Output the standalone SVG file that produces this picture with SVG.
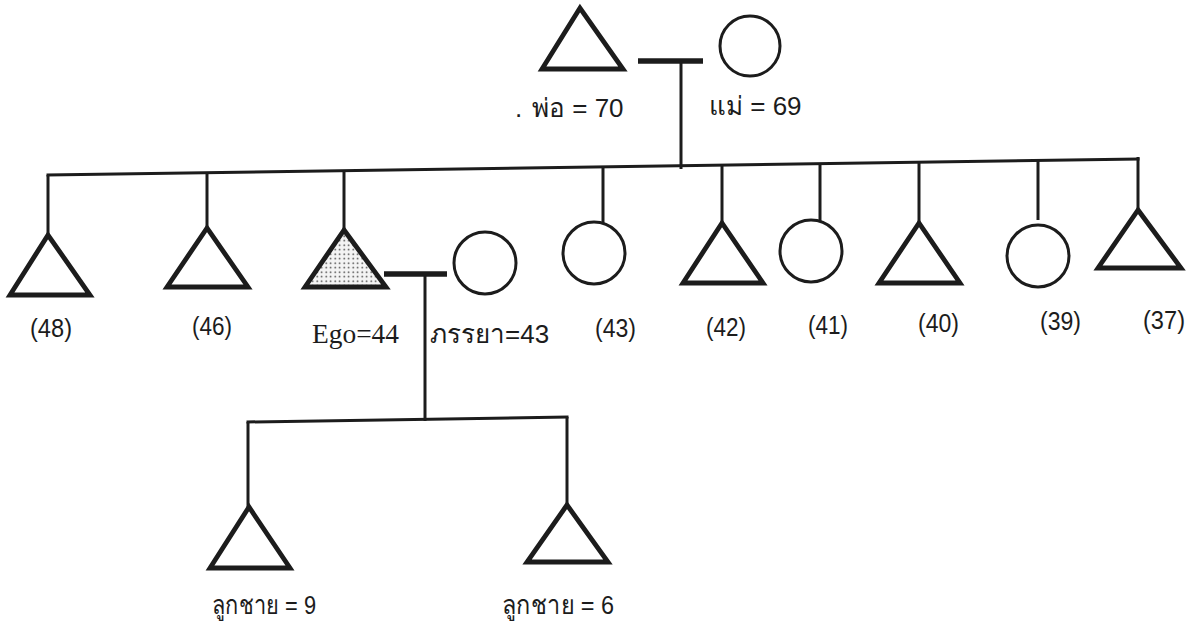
<svg xmlns="http://www.w3.org/2000/svg" width="1198" height="636" viewBox="0 0 1198 636">
<defs>
<pattern id="dots" width="4.5" height="4.5" patternUnits="userSpaceOnUse">
<rect width="4.5" height="4.5" fill="#f4f4f4"/>
<circle cx="2.2" cy="2.2" r="0.8" fill="#333"/>
</pattern>
</defs>
<style>
.tri{fill:none;stroke:#1c1c1c;stroke-width:4.8;stroke-linejoin:miter}
.cir{fill:none;stroke:#1c1c1c;stroke-width:3}
.ln{fill:none;stroke:#1c1c1c;stroke-width:3;stroke-linecap:butt}
.bar{fill:none;stroke:#1c1c1c;stroke-width:5.5}
.num{font-family:"Liberation Sans","DejaVu Sans",sans-serif;font-size:25px;fill:#1c1c1c}
.th{font-family:"Liberation Sans","Noto Sans","DejaVu Sans",sans-serif;font-size:26px;fill:#1c1c1c}
.ser{font-family:"Liberation Serif","DejaVu Serif",serif;font-size:28px;fill:#1c1c1c}
</style>
<rect width="1198" height="636" fill="#ffffff"/>
<g id="connectors">
<line class="bar" x1="638" y1="61" x2="703" y2="61"/>
<line class="ln" x1="681" y1="61" x2="681" y2="169"/>
<line class="ln" x1="46.5" y1="175" x2="1139.5" y2="159"/>
<line class="ln" x1="48" y1="175" x2="48" y2="235"/>
<line class="ln" x1="207" y1="172.7" x2="207" y2="228"/>
<line class="ln" x1="344" y1="170.7" x2="344" y2="230"/>
<line class="ln" x1="603" y1="166.9" x2="603" y2="223"/>
<line class="ln" x1="722" y1="165" x2="722" y2="223"/>
<line class="ln" x1="820" y1="163.7" x2="820" y2="221"/>
<line class="ln" x1="919" y1="162.2" x2="919" y2="223"/>
<line class="ln" x1="1038" y1="160.5" x2="1038" y2="220"/>
<line class="ln" x1="1138" y1="157" x2="1138" y2="210"/>
<line class="bar" x1="384" y1="274" x2="447" y2="274"/>
<line class="ln" x1="425" y1="274" x2="425" y2="421"/>
<line class="ln" x1="246.5" y1="422" x2="568.5" y2="417"/>
<line class="ln" x1="248" y1="422" x2="248" y2="507"/>
<line class="ln" x1="567" y1="417" x2="567" y2="505"/>
</g>
<g id="father"><polygon class="tri" points="580,8 542,69 623,69"/>
<text class="th" x="515" y="117">.<tspan x="532">พ่อ = 70</tspan></text></g>
<g id="mother"><circle class="cir" cx="750" cy="46" r="30"/>
<text class="th" x="709" y="115">แม่ = 69</text></g>
<g id="sib48"><polygon class="tri" points="48,235 10,295 90,295"/>
<text class="num" x="30" y="337" textLength="42" lengthAdjust="spacingAndGlyphs">(48)</text></g>
<g id="sib46"><polygon class="tri" points="207,228 167,287 248,287"/>
<text class="num" x="192" y="335" textLength="40" lengthAdjust="spacingAndGlyphs">(46)</text></g>
<g id="ego"><polygon class="tri" points="344,230 305,287 386,287" style="fill:url(#dots)"/>
<text class="ser" x="312" y="343" textLength="87" lengthAdjust="spacingAndGlyphs">Ego=44</text></g>
<g id="wife"><circle class="cir" cx="485" cy="263" r="31"/>
<text class="th" x="430" y="343">ภรรยา=43</text></g>
<g id="sib43"><circle class="cir" cx="594" cy="253" r="31"/>
<text class="num" x="595" y="337" textLength="41" lengthAdjust="spacingAndGlyphs">(43)</text></g>
<g id="sib42"><polygon class="tri" points="722,223 683,283 763,283"/>
<text class="num" x="706" y="336" textLength="40" lengthAdjust="spacingAndGlyphs">(42)</text></g>
<g id="sib41"><circle class="cir" cx="811" cy="251" r="31"/>
<text class="num" x="808" y="334" textLength="40" lengthAdjust="spacingAndGlyphs">(41)</text></g>
<g id="sib40"><polygon class="tri" points="919,223 879,283 960,283"/>
<text class="num" x="918" y="332" textLength="41" lengthAdjust="spacingAndGlyphs">(40)</text></g>
<g id="sib39"><circle class="cir" cx="1038" cy="256" r="31"/>
<text class="num" x="1040" y="330" textLength="41" lengthAdjust="spacingAndGlyphs">(39)</text></g>
<g id="sib37"><polygon class="tri" points="1138,210 1098,268 1181,268"/>
<text class="num" x="1143" y="329" textLength="42" lengthAdjust="spacingAndGlyphs">(37)</text></g>
<g id="son9"><polygon class="tri" points="249,507 210,568 290,568"/>
<text class="th" x="212" y="614" textLength="104" lengthAdjust="spacingAndGlyphs">ลูกชาย = 9</text></g>
<g id="son6"><polygon class="tri" points="567,505 527,562 608,562"/>
<text class="th" x="502" y="614" textLength="112" lengthAdjust="spacingAndGlyphs">ลูกชาย = 6</text></g>
</svg>
